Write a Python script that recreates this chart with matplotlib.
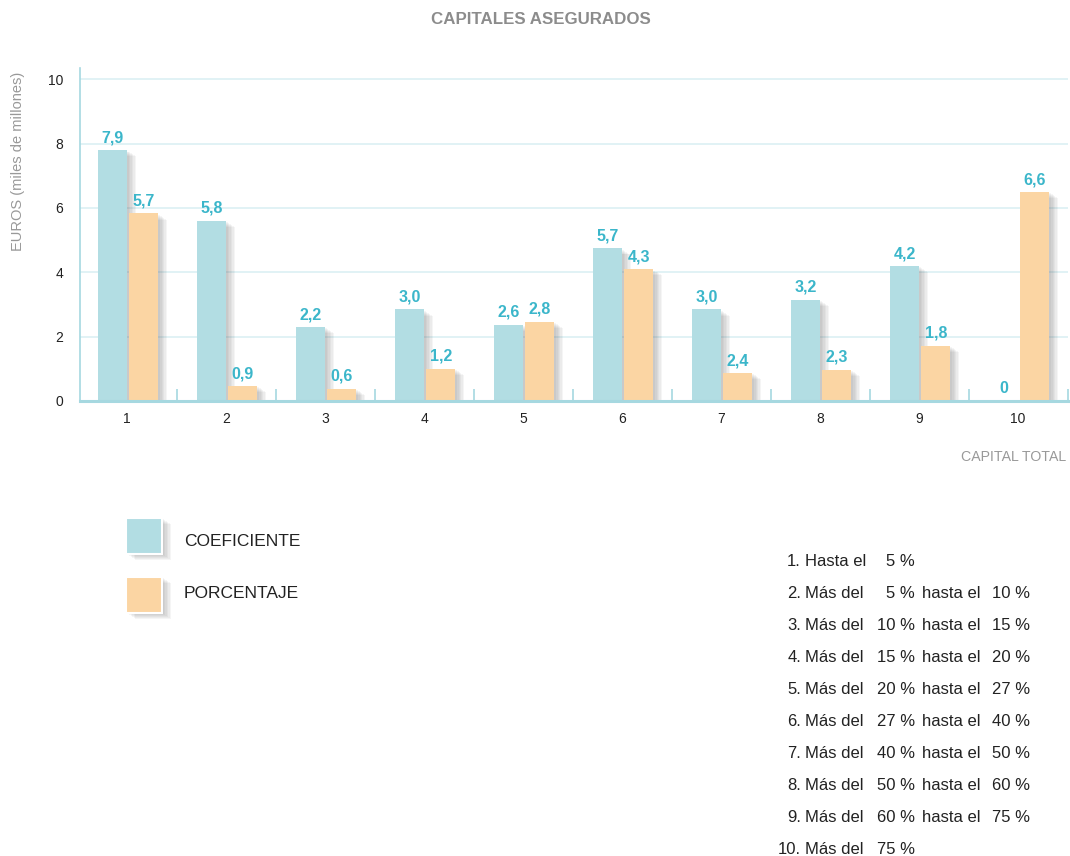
import numpy as np
import matplotlib.pyplot as plt
import matplotlib.patheffects as pe
from matplotlib.patches import Rectangle

# --- data ---
groups = [1, 2, 3, 4, 5, 6, 7, 8, 9, 10]
coef_heights = [7.8, 5.6, 2.3, 2.85, 2.37, 4.75, 2.85, 3.15, 4.2, 0.0]
porc_heights = [5.83, 0.47, 0.38, 1.0, 2.46, 4.1, 0.87, 0.97, 1.72, 6.5]
coef_labels = ["7,9", "5,8", "2,2", "3,0", "2,6", "5,7", "3,0", "3,2", "4,2", "0"]
porc_labels = ["5,7", "0,9", "0,6", "1,2", "2,8", "4,3", "2,4", "2,3", "1,8", "6,6"]
series_names = ["COEFICIENTE", "PORCENTAJE"]
tramos_num = ["1.", "2.", "3.", "4.", "5.", "6.", "7.", "8.", "9.", "10."]
tramos_txt = ["Hasta el", "Más del", "Más del", "Más del", "Más del",
              "Más del", "Más del", "Más del", "Más del", "Más del"]
tramos_from = ["5 %", "5 %", "10 %", "15 %", "20 %", "27 %", "40 %", "50 %", "60 %", "75 %"]
tramos_to = ["", "10 %", "15 %", "20 %", "27 %", "40 %", "50 %", "60 %", "75 %", ""]

C_COEF = "#b2dde3"
C_PORC = "#fbd5a3"
C_LABEL = "#3bb6ca"
C_AXIS = "#a6d8e0"
C_GRID = "#dcf0f3"
C_GRAY = "#999999"
C_TEXT = "#222222"

plt.rcParams['font.family'] = ['Liberation Sans', 'DejaVu Sans']

W, H = 1070, 856
fig = plt.figure(figsize=(W / 100, H / 100), dpi=100)
ax = fig.add_axes([80 / W, 1 - 401 / H, 988 / W, 333 / H])


def shadow():
    fx = [pe.SimplePatchShadow(offset=(d, -d * 0.7), shadow_rgbFace="#555555", alpha=0.06)
          for d in (1.5, 2.5, 3.5, 4.5, 5.5, 6.5)]
    return fx + [pe.Normal()]


def ftext(x, y, s, **kw):
    fig.text(x / W, 1 - y / H, s, **kw)


x = np.array(groups)
bw = 0.29
b1 = ax.bar(x - 0.145, coef_heights, bw, color=C_COEF, zorder=3)
b2 = ax.bar(x + 0.17, porc_heights, bw, color=C_PORC, zorder=3)
for b in list(b1) + list(b2):
    b.set_path_effects(shadow())

for xs, hs, labs in ((x - 0.145, coef_heights, coef_labels), (x + 0.17, porc_heights, porc_labels)):
    for xi, h, lab in zip(xs, hs, labs):
        ax.annotate(lab, (xi, h), xytext=(0, 3.5), textcoords="offset points",
                    ha="center", va="bottom", color=C_LABEL, fontsize=11.5,
                    fontweight="bold", zorder=4)

ax.set_xlim(0.525, 10.505)
ax.set_ylim(0, 10.35)
ax.set_yticks([0, 2, 4, 6, 8, 10])
ax.set_xticks(groups)
ax.set_xticks(np.arange(1.5, 10.6, 1), minor=True)
ax.tick_params(axis="y", length=0, pad=12, labelsize=10, labelcolor=C_TEXT)
ax.tick_params(axis="x", which="major", length=0, pad=8, labelsize=10, labelcolor=C_TEXT)
ax.tick_params(axis="x", which="minor", direction="in", length=9, width=1.2, color=C_AXIS)
ax.grid(axis="y", color=C_GRID, linewidth=1.2, zorder=0)
ax.set_axisbelow(True)
for s in ("top", "right"):
    ax.spines[s].set_visible(False)
ax.spines["left"].set_color(C_AXIS)
ax.spines["left"].set_linewidth(1.2)
ax.spines["bottom"].set_color(C_AXIS)
ax.spines["bottom"].set_linewidth(2.2)
ax.spines["bottom"].set_zorder(5)

ftext(18, 161, "EUROS (miles de millones)", rotation=90, ha="center", va="center",
      color=C_GRAY, fontsize=10.5)
ftext(541, 20, "CAPITALES ASEGURADOS", ha="center", va="center", color="#8c8c8c",
      fontsize=12.2, fontweight="bold")
ftext(1066, 457, "CAPITAL TOTAL", ha="right", va="center", color=C_GRAY, fontsize=10.2)

# legend boxes
box_tops = [518, 577]
text_ys = [542, 594]
for name, col, y0, ty in zip(series_names, [C_COEF, C_PORC], box_tops, text_ys):
    r = Rectangle((126 / W, 1 - (y0 + 36) / H), 36 / W, 36 / H, transform=fig.transFigure,
                  facecolor=col, edgecolor="white", linewidth=1.5)
    r.set_path_effects(shadow())
    fig.add_artist(r)
    ftext(184, ty, name, ha="left", va="center", color=C_TEXT, fontsize=12.5)

# ranges list
for i in range(len(tramos_num)):
    y = 561 + i * 32
    kw = dict(va="center", color=C_TEXT, fontsize=12)
    ftext(801, y, tramos_num[i], ha="right", **kw)
    ftext(805, y, tramos_txt[i], ha="left", **kw)
    ftext(915, y, tramos_from[i], ha="right", **kw)
    if tramos_to[i]:
        ftext(922, y, "hasta el", ha="left", **kw)
        ftext(1030, y, tramos_to[i], ha="right", **kw)

fig.savefig("out.png", dpi=100)
